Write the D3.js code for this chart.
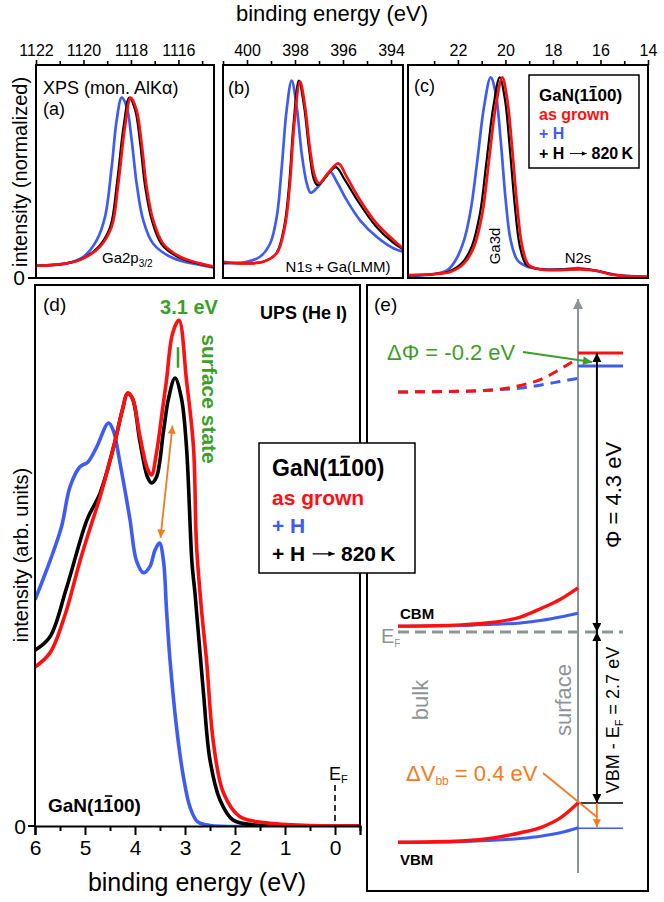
<!DOCTYPE html>
<html><head><meta charset="utf-8">
<script src="https://cdn.jsdelivr.net/npm/d3@7"></script>
<style>
body{margin:0;background:#fff;}
svg{display:block;font-family:"Liberation Sans",Arial,Helvetica,sans-serif;}
</style></head><body>
<svg id="chart" width="664" height="902"></svg>
<script>
// ---------------- DATA ----------------
// (a) Ga2p3/2 core level  [binding energy eV, normalized intensity]
const ga2pBlue  = [[1122,0.068],[1120.71,0.081],[1120.0,0.118],[1119.44,0.21],[1119.09,0.34],[1118.81,0.617],[1118.6,0.876],[1118.39,1.0],[1118.18,0.95],[1117.97,0.765],[1117.76,0.525],[1117.48,0.32],[1117.06,0.19],[1116.21,0.109],[1115.09,0.072],[1114.49,0.057]];
const ga2pBlack = [[1122,0.068],[1120.71,0.081],[1120.0,0.11],[1119.35,0.175],[1118.87,0.285],[1118.59,0.525],[1118.31,0.84],[1118.07,1.0],[1117.82,0.93],[1117.61,0.747],[1117.4,0.506],[1117.12,0.32],[1116.72,0.19],[1116.0,0.115],[1115.09,0.078],[1114.49,0.06]];
const ga2pRed   = [[1122,0.068],[1120.71,0.081],[1120.0,0.109],[1119.3,0.174],[1118.81,0.285],[1118.53,0.525],[1118.25,0.84],[1118.01,1.0],[1117.76,0.93],[1117.55,0.747],[1117.34,0.506],[1117.06,0.32],[1116.64,0.19],[1115.93,0.118],[1115.09,0.081],[1114.49,0.063]];
// (b) N1s + Ga(LMM)
const n1sBlue  = [[401,0.081],[400.01,0.09],[399.46,0.118],[399.04,0.19],[398.76,0.34],[398.55,0.617],[398.35,0.93],[398.14,1.094],[397.93,0.95],[397.72,0.69],[397.51,0.525],[397.35,0.473],[397.1,0.497],[396.82,0.543],[396.54,0.59],[396.26,0.534],[395.85,0.433],[395.29,0.32],[394.6,0.229],[393.9,0.165],[393.51,0.146]];
const n1sBlack = [[401,0.085],[400.01,0.081],[399.32,0.09],[398.78,0.137],[398.45,0.285],[398.24,0.525],[398.07,0.84],[397.84,1.094],[397.62,0.95],[397.41,0.71],[397.21,0.545],[397.07,0.515],[396.75,0.555],[396.3,0.615],[395.95,0.55],[395.35,0.42],[394.65,0.29],[393.95,0.2],[393.51,0.16]];
const n1sRed   = [[401,0.09],[400.01,0.081],[399.32,0.09],[398.76,0.137],[398.42,0.285],[398.21,0.525],[398.04,0.84],[397.79,1.089],[397.58,0.95],[397.37,0.71],[397.17,0.562],[397.0,0.525],[396.68,0.571],[396.2,0.636],[395.85,0.562],[395.29,0.433],[394.6,0.303],[393.9,0.211],[393.51,0.165]];
// (c) Ga3d / N2s
const ga3dBlue  = [[24.09,0.011],[23.0,0.022],[22.44,0.044],[22.09,0.1],[21.74,0.21],[21.46,0.377],[21.18,0.654],[20.9,0.95],[20.62,1.113],[20.41,1.024],[20.2,0.765],[19.99,0.433],[19.78,0.21],[19.5,0.1],[19.08,0.063],[18.39,0.048],[17.69,0.048],[16.85,0.054],[16.01,0.035],[15.17,0.015],[13.99,0.007]];
const ga3dBlack = [[24.09,0.014],[23.0,0.022],[22.4,0.035],[21.84,0.081],[21.42,0.174],[21.07,0.359],[20.79,0.654],[20.51,0.95],[20.24,1.113],[20.02,0.99],[19.81,0.71],[19.6,0.395],[19.39,0.174],[19.12,0.075],[18.6,0.05],[17.69,0.046],[16.85,0.05],[16.15,0.04],[15.45,0.018],[13.99,0.006]];
const ga3dRed   = [[24.09,0.016],[23.0,0.022],[22.3,0.035],[21.74,0.081],[21.32,0.174],[20.97,0.359],[20.69,0.654],[20.41,0.95],[20.13,1.113],[19.92,0.987],[19.71,0.71],[19.5,0.395],[19.29,0.174],[19.02,0.072],[18.53,0.048],[17.69,0.044],[16.85,0.048],[16.15,0.04],[15.45,0.017],[13.99,0.006]];
const ticksA = [1122,1120,1118,1116], minorA = [1121,1119,1117,1115];
const ticksB = [400,398,396,394], minorB = [401,399,397,395];
const ticksC = [22,20,18,16,14], minorC = [23,21,19,17,15];
// (d) UPS valence band  [binding energy eV, intensity arb.]
const upsBlue  = [[6.0,0.418],[5.7,0.49],[5.47,0.553],[5.3,0.627],[5.1,0.664],[4.94,0.673],[4.77,0.70],[4.53,0.745],[4.43,0.73],[4.3,0.671],[4.1,0.566],[3.97,0.49],[3.83,0.468],[3.7,0.48],[3.6,0.51],[3.51,0.523],[3.43,0.49],[3.37,0.40],[3.3,0.307],[3.17,0.183],[3.03,0.09],[2.9,0.035],[2.75,0.008],[2.5,0.001],[1.0,0],[-0.5,0]];
const upsBlack = [[6.0,0.325],[5.7,0.35],[5.37,0.44],[4.96,0.566],[4.7,0.615],[4.43,0.70],[4.25,0.77],[4.15,0.80],[4.05,0.79],[3.9,0.71],[3.75,0.645],[3.67,0.634],[3.57,0.645],[3.43,0.73],[3.33,0.79],[3.2,0.828],[3.07,0.79],[2.97,0.70],[2.86,0.486],[2.8,0.43],[2.63,0.245],[2.5,0.122],[2.3,0.048],[2.04,0.011],[1.6,0.002],[-0.5,0]];
const upsRed   = [[6.0,0.294],[5.7,0.32],[5.4,0.39],[5.1,0.49],[4.9,0.55],[4.7,0.608],[4.43,0.70],[4.25,0.77],[4.15,0.80],[4.05,0.79],[3.9,0.72],[3.75,0.66],[3.67,0.649],[3.57,0.69],[3.45,0.77],[3.37,0.824],[3.25,0.91],[3.12,0.935],[2.97,0.824],[2.83,0.70],[2.77,0.52],[2.67,0.40],[2.57,0.307],[2.43,0.153],[2.23,0.061],[1.9,0.017],[1.37,0.006],[0.5,0.001],[-0.5,0]];
const upsTicks = [6,5,4,3,2,1,0], upsMinor = [5.5,4.5,3.5,2.5,1.5,0.5,-0.5];
const ssArrow = [[3.49,0.533],[3.25,0.74]];   // orange double arrow (E, I)
const ssMark  = [[3.14,0.847],[3.14,0.885]];  // green tick
// (e) band diagram: position (0 = bulk, 1 = surface) and energy rel. to E_F (eV)
const bandPos = [0,0.35,0.53,0.68,0.8,0.9,1.0];
const cbmRed  = [0.09,0.11,0.15,0.23,0.37,0.50,0.68];
const cbmBlue = [0.09,0.10,0.12,0.14,0.18,0.23,0.29];
const vbmRed  = [-3.32,-3.30,-3.25,-3.17,-3.08,-2.94,-2.70];
const vbmBlue = [-3.32,-3.31,-3.29,-3.26,-3.22,-3.17,-3.09];
const vacRed  = [3.70,3.71,3.73,3.80,3.90,4.05,4.22];
const vacBlue = [3.70,3.71,3.73,3.76,3.81,3.86,3.91];
const surfLevels = {vacRed:4.3, vacBlue:4.1, vbmRed:-2.7, vbmBlue:-3.1};

// ---------------- DRAW ----------------
const RED="#ff1010", BLUE="#3f5cf2", BLACK="#000", GREEN="#3c9e28", ORANGE="#f47a22", GRAY="#8c9595";
const svg = d3.select("#chart");
svg.append("rect").attr("width",664).attr("height",902).attr("fill","#fff");
const defs = svg.append("defs");
function marker(id,color,w,h){
  defs.append("marker").attr("id",id).attr("viewBox","0 0 10 10").attr("refX",10).attr("refY",5)
    .attr("markerWidth",w).attr("markerHeight",h).attr("markerUnits","userSpaceOnUse")
    .attr("orient","auto-start-reverse")
    .append("path").attr("d","M0,0 L10,5 L0,10 z").attr("fill",color);
}
marker("ahK",BLACK,12,9); marker("ahO",ORANGE,11,8); marker("ahG",GREEN,12,9); marker("ahGr",GRAY,13,10);

function ganLabel(g,x,y,size){
  const t = g.append("text").attr("x",x).attr("y",y).attr("font-size",size).attr("font-weight","bold").attr("fill","#000").text("GaN(1100)");
  const n = t.node();
  const s = n.getStartPositionOfChar(5), e = n.getEndPositionOfChar(5);
  g.append("line").attr("x1",s.x+size*0.1).attr("x2",e.x-size*0.06)
    .attr("y1",y-size*0.84).attr("y2",y-size*0.84).attr("stroke","#000").attr("stroke-width",size*0.085);
}
function arrowLine(g,x,y,size,color){
  const t = g.append("text").attr("x",x).attr("y",y).attr("font-size",size).attr("font-weight","bold").attr("fill",color).text("+ H");
  const w = t.node().getComputedTextLength();
  const ax0 = x + w + size*0.35, ax1 = ax0 + size*1.05, ay = y - size*0.34;
  g.append("line").attr("x1",ax0).attr("x2",ax1).attr("y1",ay).attr("y2",ay).attr("stroke",color).attr("stroke-width",size*0.06);
  g.append("path").attr("d",`M${ax1},${ay} l${-size*0.3},${-size*0.13} l0,${size*0.26} z`).attr("fill",color);
  g.append("text").attr("x",ax1+size*0.3).attr("y",y).attr("font-size",size).attr("font-weight","bold").attr("fill",color).text("820\u2009K");
}

// Top title
svg.append("text").attr("x",332).attr("y",21).attr("text-anchor","middle").attr("font-size",22).text("binding energy (eV)");

const yTop = d3.scaleLinear().domain([0,1.17]).range([278,67]);
const topPanels = [
  {id:"a", x0:36, x1:214, domain:[1122,1114.5], ticks:ticksA, minor:minorA, series:[ga2pBlue,ga2pBlack,ga2pRed]},
  {id:"b", x0:223, x1:403, domain:[401,393.5], ticks:ticksB, minor:minorB, series:[n1sBlue,n1sBlack,n1sRed]},
  {id:"c", x0:408, x1:648, domain:[24.1,14], ticks:ticksC, minor:minorC, series:[ga3dBlue,ga3dBlack,ga3dRed]}
];
const colors = [BLUE,BLACK,RED];
topPanels.forEach(p=>{
  const x = d3.scaleLinear().domain(p.domain).range([p.x0,p.x1]);
  const g = svg.append("g");
  defs.append("clipPath").attr("id","clip"+p.id).append("rect").attr("x",p.x0).attr("y",65).attr("width",p.x1-p.x0).attr("height",213);
  const line = d3.line().x(d=>x(d[0])).y(d=>yTop(d[1])).curve(d3.curveCatmullRom.alpha(0.5));
  p.series.forEach((s,i)=>{
    g.append("path").datum(s).attr("d",line).attr("fill","none").attr("stroke",colors[i])
      .attr("stroke-width",i===1?2.2:2.7).attr("clip-path","url(#clip"+p.id+")");
  });
  g.append("rect").attr("x",p.x0).attr("y",65).attr("width",p.x1-p.x0).attr("height",213)
    .attr("fill","none").attr("stroke","#000").attr("stroke-width",2);
  const ax = g.append("g").attr("transform","translate(0,65)")
    .call(d3.axisTop(x).tickValues(p.ticks).tickSize(5).tickPadding(4).tickFormat(d3.format("d")));
  ax.select(".domain").remove();
  ax.selectAll("line").attr("stroke-width",1.6);
  ax.selectAll("text").attr("font-size",16).attr("font-family","Liberation Sans, Arial, sans-serif").attr("fill","#000");
  const mx = g.append("g").attr("transform","translate(0,65)")
    .call(d3.axisTop(x).tickValues(p.minor).tickSize(4).tickFormat(""));
  mx.select(".domain").remove();
  mx.selectAll("line").attr("stroke-width",1.6);
});
// top y axis
svg.append("line").attr("x1",28).attr("x2",36).attr("y1",yTop(0)).attr("y2",yTop(0)).attr("stroke","#000").attr("stroke-width",2);
svg.append("text").attr("x",19).attr("y",yTop(0)+7).attr("text-anchor","middle").attr("font-size",21).text("0");
svg.append("text").attr("transform","translate(27,172) rotate(-90)").attr("text-anchor","middle").attr("font-size",20).text("intensity (normalized)");
// top panel labels
svg.append("text").attr("x",43).attr("y",94).attr("font-size",18).text("XPS (mon. AlK\u03b1)");
svg.append("text").attr("x",43).attr("y",115).attr("font-size",18).text("(a)");
const tGa = svg.append("text").attr("x",102).attr("y",263).attr("font-size",15).text("Ga2p");
tGa.append("tspan").attr("font-size",10).attr("dy",4).text("3/2");
svg.append("text").attr("x",228).attr("y",94).attr("font-size",18).text("(b)");
svg.append("text").attr("x",338).attr("y",272).attr("text-anchor","middle").attr("font-size",15).text("N1s\u2009+\u2009Ga(LMM)");
svg.append("text").attr("x",414).attr("y",92).attr("font-size",18).text("(c)");
svg.append("text").attr("transform","translate(500,246) rotate(-90)").attr("text-anchor","middle").attr("font-size",15).text("Ga3d");
svg.append("text").attr("x",578).attr("y",263).attr("text-anchor","middle").attr("font-size",15).text("N2s");
// legend (c)
const lc = svg.append("g");
lc.append("rect").attr("x",529).attr("y",75).attr("width",110).attr("height",93).attr("fill","#fff").attr("stroke","#000").attr("stroke-width",1.5);
ganLabel(lc,539,101,17);
lc.append("text").attr("x",539).attr("y",120).attr("font-size",16).attr("font-weight","bold").attr("fill",RED).text("as grown");
lc.append("text").attr("x",539).attr("y",139).attr("font-size",16).attr("font-weight","bold").attr("fill",BLUE).text("+ H");
arrowLine(lc,539,159,16,"#000");

// ---------------- (d) UPS ----------------
const xU = d3.scaleLinear().domain([6,-0.5]).range([35,360]);
const yU = d3.scaleLinear().domain([0,1]).range([826,285]);
const gd = svg.append("g");
defs.append("clipPath").attr("id","clipd").append("rect").attr("x",35).attr("y",285).attr("width",325).attr("height",541);
const lineU = d3.line().x(d=>xU(d[0])).y(d=>yU(d[1])).curve(d3.curveCatmullRom.alpha(0.5));
[upsBlue,upsBlack,upsRed].forEach((s,i)=>{
  gd.append("path").datum(s).attr("d",lineU).attr("fill","none").attr("stroke",colors[i])
    .attr("stroke-width",3.6).attr("stroke-linejoin","round").attr("clip-path","url(#clipd)");
});
gd.append("path").attr("d",`M${xU(6)},${yU(0)} V285 H${xU(-0.5)} V${yU(0)}`).attr("fill","none").attr("stroke","#000").attr("stroke-width",2);
const axU = gd.append("g").attr("transform",`translate(0,${yU(0)})`)
  .call(d3.axisBottom(xU).tickValues(upsTicks).tickSize(9).tickPadding(5).tickFormat(d3.format("d")));
axU.select(".domain").attr("stroke-width",2.2);
axU.selectAll("line").attr("stroke-width",2);
axU.selectAll("text").attr("font-size",21).attr("font-family","Liberation Sans, Arial, sans-serif").attr("fill","#000");
const axUm = gd.append("g").attr("transform",`translate(0,${yU(0)})`)
  .call(d3.axisBottom(xU).tickValues(upsMinor).tickSize(5).tickFormat(""));
axUm.select(".domain").remove();
axUm.selectAll("line").attr("stroke-width",2);
gd.append("line").attr("x1",28).attr("x2",35).attr("y1",yU(0)).attr("y2",yU(0)).attr("stroke","#000").attr("stroke-width",2);
gd.append("text").attr("x",20).attr("y",yU(0)+8).attr("text-anchor","middle").attr("font-size",21).text("0");
gd.append("text").attr("x",197).attr("y",891).attr("text-anchor","middle").attr("font-size",25).text("binding energy (eV)");
gd.append("text").attr("transform","translate(28,555) rotate(-90)").attr("text-anchor","middle").attr("font-size",20).text("intensity (arb. units)");
// E_F marker
gd.append("line").attr("x1",xU(0)).attr("x2",xU(0)).attr("y1",785).attr("y2",yU(0)).attr("stroke","#000").attr("stroke-width",1.6).attr("stroke-dasharray","6,4");
const ef = gd.append("text").attr("x",xU(0)-6).attr("y",780).attr("font-size",18).text("E");
ef.append("tspan").attr("font-size",11).attr("dy",3).text("F");
gd.append("text").attr("x",43).attr("y",311).attr("font-size",19).text("(d)");
gd.append("text").attr("x",347).attr("y",319).attr("text-anchor","end").attr("font-size",18).attr("font-weight","bold").text("UPS (He I)");
gd.append("text").attr("x",xU(3.1)+9).attr("y",314).attr("text-anchor","middle").attr("font-size",20).attr("font-weight","bold").attr("fill",GREEN).text("3.1 eV");
gd.append("text").attr("transform",`translate(${xU(3.1)+22},399) rotate(90)`).attr("text-anchor","middle").attr("font-size",21).attr("font-weight","bold").attr("fill",GREEN).text("surface state");
gd.append("line").attr("x1",xU(ssMark[0][0])).attr("x2",xU(ssMark[1][0])).attr("y1",yU(ssMark[0][1])).attr("y2",yU(ssMark[1][1])).attr("stroke",GREEN).attr("stroke-width",2.5);
gd.append("line").attr("x1",xU(ssArrow[0][0])).attr("y1",yU(ssArrow[0][1])).attr("x2",xU(ssArrow[1][0])).attr("y2",yU(ssArrow[1][1]))
  .attr("stroke",ORANGE).attr("stroke-width",1.8).attr("marker-start","url(#ahO)").attr("marker-end","url(#ahO)");
ganLabel(gd,48,812,19);

// ---------------- (e) band diagram ----------------
const ge = svg.append("g");
ge.append("rect").attr("x",367).attr("y",285).attr("width",281).attr("height",606).attr("fill","none").attr("stroke","#000").attr("stroke-width",2);
ge.append("text").attr("x",374).attr("y",311).attr("font-size",19).text("(e)");
const xB = d3.scaleLinear().domain([0,1]).range([398,578]);
const yB = d3.scaleLinear().domain([-2.7,0,4.3]).range([803,632,353]);
const bandLine = d3.line().x(d=>xB(d[0])).y(d=>yB(d[1])).curve(d3.curveMonotoneX);
const zipB = arr => bandPos.map((p,i)=>[p,arr[i]]);
// gray surface axis
ge.append("line").attr("x1",xB(1)).attr("x2",xB(1)).attr("y1",873).attr("y2",299).attr("stroke",GRAY).attr("stroke-width",2).attr("marker-end","url(#ahGr)");
// E_F dashed
ge.append("line").attr("x1",xB(0)).attr("x2",xB(1.25)).attr("y1",yB(0)).attr("y2",yB(0)).attr("stroke",GRAY).attr("stroke-width",3).attr("stroke-dasharray","11,6");
const efB = ge.append("text").attr("x",381).attr("y",643).attr("font-size",20).attr("fill",GRAY).text("E");
efB.append("tspan").attr("font-size",10).attr("dy",4).text("F");
// vacuum levels
ge.append("path").datum(zipB(vacBlue)).attr("d",bandLine).attr("fill","none").attr("stroke",BLUE).attr("stroke-width",3).attr("stroke-dasharray","10,7");
ge.append("path").datum(zipB(vacRed)).attr("d",bandLine).attr("fill","none").attr("stroke",RED).attr("stroke-width",3).attr("stroke-dasharray","10,7");
ge.append("line").attr("x1",xB(1)).attr("x2",xB(1.25)).attr("y1",yB(surfLevels.vacRed)).attr("y2",yB(surfLevels.vacRed)).attr("stroke",RED).attr("stroke-width",3);
ge.append("line").attr("x1",xB(1)).attr("x2",xB(1.25)).attr("y1",yB(surfLevels.vacBlue)).attr("y2",yB(surfLevels.vacBlue)).attr("stroke",BLUE).attr("stroke-width",3);
// CBM / VBM
ge.append("path").datum(zipB(cbmBlue)).attr("d",bandLine).attr("fill","none").attr("stroke",BLUE).attr("stroke-width",3);
ge.append("path").datum(zipB(cbmRed)).attr("d",bandLine).attr("fill","none").attr("stroke",RED).attr("stroke-width",3.4);
ge.append("path").datum(zipB(vbmBlue)).attr("d",bandLine).attr("fill","none").attr("stroke",BLUE).attr("stroke-width",3);
ge.append("path").datum(zipB(vbmRed)).attr("d",bandLine).attr("fill","none").attr("stroke",RED).attr("stroke-width",3.4);
ge.append("line").attr("x1",xB(1)).attr("x2",xB(1.25)).attr("y1",yB(surfLevels.vbmRed)).attr("y2",yB(surfLevels.vbmRed)).attr("stroke","#000").attr("stroke-width",1.5);
ge.append("line").attr("x1",xB(1)).attr("x2",xB(1.25)).attr("y1",yB(surfLevels.vbmBlue)).attr("y2",yB(surfLevels.vbmBlue)).attr("stroke",BLUE).attr("stroke-width",1.5);
ge.append("text").attr("x",400).attr("y",619).attr("font-size",15).attr("font-weight","bold").text("CBM");
ge.append("text").attr("x",400).attr("y",865).attr("font-size",15).attr("font-weight","bold").text("VBM");
// Φ and VBM-EF arrows
const xa = xB(1.105);
ge.append("line").attr("x1",xa).attr("x2",xa).attr("y1",yB(surfLevels.vacRed)).attr("y2",yB(0)).attr("stroke","#000").attr("stroke-width",2).attr("marker-start","url(#ahK)").attr("marker-end","url(#ahK)");
ge.append("line").attr("x1",xa).attr("x2",xa).attr("y1",yB(0)).attr("y2",yB(surfLevels.vbmRed)).attr("stroke","#000").attr("stroke-width",2).attr("marker-start","url(#ahK)").attr("marker-end","url(#ahK)");
ge.append("text").attr("transform",`translate(${xa+24},495) rotate(-90)`).attr("text-anchor","middle").attr("font-size",22).text("\u03a6 = 4.3 eV");
const vt = ge.append("text").attr("transform",`translate(${xa+22},720) rotate(-90)`).attr("text-anchor","middle").attr("font-size",18).text("VBM - E");
vt.append("tspan").attr("font-size",11).attr("dy",4).text("F");
vt.append("tspan").attr("dy",-4).text(" = 2.7 eV");
// ΔΦ
ge.append("text").attr("x",387).attr("y",360).attr("font-size",22).attr("fill",GREEN).text("\u0394\u03a6 = -0.2 eV");
ge.append("line").attr("x1",523).attr("y1",352).attr("x2",592).attr("y2",362).attr("stroke",GREEN).attr("stroke-width",1.8).attr("marker-end","url(#ahG)");
// ΔVbb
const dv = ge.append("text").attr("x",406).attr("y",781).attr("font-size",22).attr("fill",ORANGE).text("\u0394V");
dv.append("tspan").attr("font-size",12).attr("dy",4).text("bb");
dv.append("tspan").attr("dy",-4).text(" = 0.4 eV");
ge.append("line").attr("x1",543).attr("y1",773).attr("x2",xa).attr("y2",817).attr("stroke",ORANGE).attr("stroke-width",1.8);
ge.append("line").attr("x1",xa).attr("x2",xa).attr("y1",yB(surfLevels.vbmRed)).attr("y2",yB(surfLevels.vbmBlue)-1).attr("stroke",ORANGE).attr("stroke-width",1.8).attr("marker-end","url(#ahO)");
ge.append("text").attr("transform","translate(428,700) rotate(-90)").attr("text-anchor","middle").attr("font-size",22).attr("fill",GRAY).text("bulk");
ge.append("text").attr("transform","translate(571,700) rotate(-90)").attr("text-anchor","middle").attr("font-size",22).attr("fill",GRAY).text("surface");

// legend (d) on top of borders
const ld = svg.append("g");
ld.append("rect").attr("x",259).attr("y",443).attr("width",156).attr("height",130).attr("fill","#fff").attr("stroke","#000").attr("stroke-width",1.5);
ganLabel(ld,272,476,23);
ld.append("text").attr("x",272).attr("y",505).attr("font-size",21).attr("font-weight","bold").attr("fill",RED).text("as grown");
ld.append("text").attr("x",272).attr("y",533).attr("font-size",21).attr("font-weight","bold").attr("fill",BLUE).text("+ H");
arrowLine(ld,272,561,21,"#000");
</script>
</body></html>
